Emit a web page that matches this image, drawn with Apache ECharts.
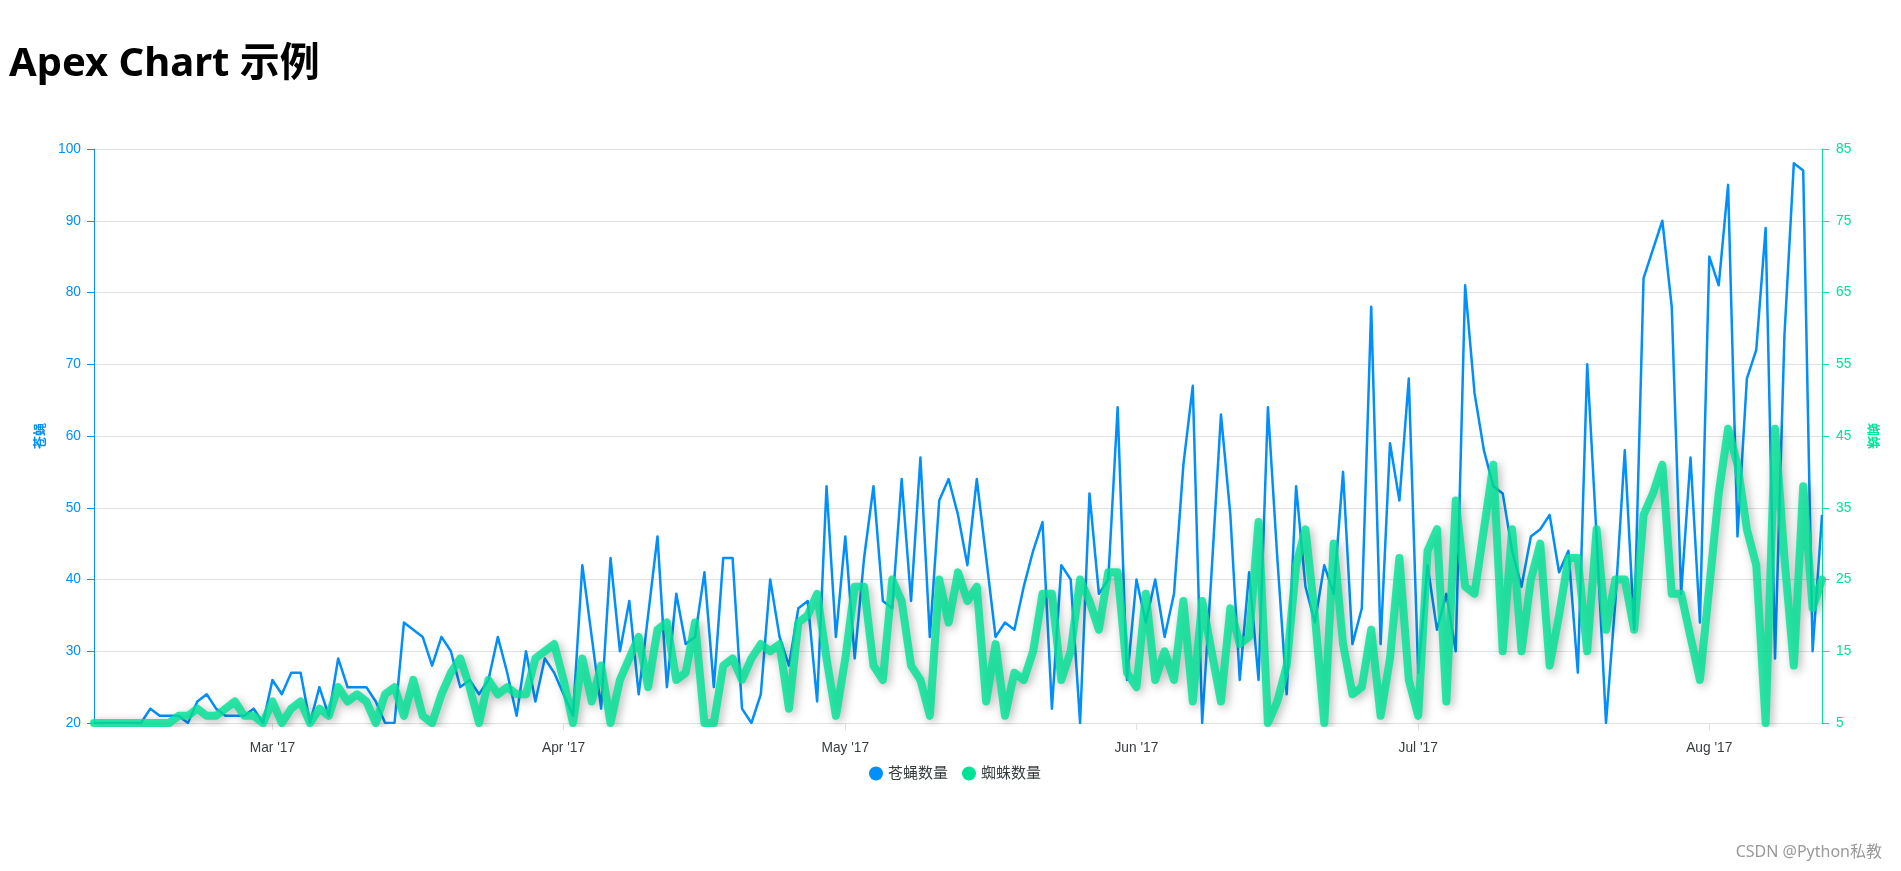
<!DOCTYPE html>
<html><head><meta charset="utf-8">
<script src="https://cdn.jsdelivr.net/npm/echarts@6/dist/echarts.min.js"></script>
<style>html,body{margin:0;padding:0;background:#fff;} #chart{width:1901px;height:871px;}</style>
</head><body><div id="chart"></div>
<script>
const titleText = 'Apex Chart 示例';
const seriesNames = ['苍蝇数量', '蜘蛛数量'];
const axisNames = ['苍蝇', '蜘蛛'];
const monthNames = ['Jan','Feb','Mar','Apr','May','Jun','Jul','Aug','Sep','Oct','Nov','Dec'];
const startDate = [2017, 1, 10]; // 2017-02-10, one point per day
const flies = [
  20,20,20,20,20,20,22,21,21,21,20,23,24,22,21,21,21,22,20,26,24,27,27,20,
  25,21,29,25,25,25,23,20,20,34,33,32,28,32,30,25,26,24,26,32,27,21,30,
  23,29,27,24,21,42,32,22,43,30,37,24,35,46,25,38,31,32,41,25,43,43,22,
  20,24,40,32,28,36,37,23,53,32,46,29,43,53,37,36,54,37,57,32,51,54,49,
  42,54,43,32,34,33,39,44,48,22,42,40,20,52,38,40,64,26,40,34,40,32,38,
  56,67,20,41,63,49,26,41,26,64,43,24,53,39,34,42,38,55,31,36,78,31,59,
  51,68,27,42,33,38,30,81,66,58,53,52,44,39,46,47,49,41,44,27,70,46,20,
  37,58,33,82,86,90,78,38,57,34,85,81,95,46,68,72,89,29,74,98,97,30,49
];
const spiders = [
  5,5,5,5,5,5,5,5,5,6,6,7,6,6,7,8,6,6,5,8,5,7,8,5,
  7,6,10,8,9,8,5,9,10,6,11,6,5,9,12,14,10,5,11,9,10,9,9,
  14,15,16,11,5,14,8,13,5,11,14,17,10,18,19,11,12,19,5,5,13,14,11,
  14,16,15,16,7,19,20,23,14,6,14,24,24,13,11,25,22,13,11,6,25,19,26,
  22,24,8,16,6,12,11,15,23,23,11,15,25,22,18,26,26,12,10,23,11,15,11,
  22,8,22,15,8,21,16,17,33,5,8,13,27,32,20,5,30,16,9,10,18,6,14,
  28,11,6,29,32,8,36,24,23,32,41,15,32,15,25,30,13,20,28,28,15,32,18,
  25,25,18,34,37,41,23,23,17,11,24,37,46,41,32,27,5,46,28,13,38,21,25
];
const leftTicks = [20, 100, 10];
const rightTicks = [5, 85, 10];

const dates = [];
const t0 = Date.UTC(startDate[0], startDate[1], startDate[2]);
for (let i = 0; i < flies.length; i++) {
  dates.push(new Date(t0 + i * 86400000).toISOString().slice(0, 10));
}
const isMonthStart = (idx, v) => v.slice(8) === '01';
const labelFont = "'Liberation Sans', Arial, Helvetica, sans-serif";
const cjkFont = "'Noto Sans', 'Noto Sans CJK SC', sans-serif";

const chart = echarts.init(document.getElementById('chart'), null, {renderer: 'canvas'});
chart.setOption({
  animation: false,
  backgroundColor: '#fff',
  title: {
    text: titleText, left: 4, top: 40,
    textStyle: {fontSize: 40, fontWeight: 'bold', color: '#000', fontFamily: cjkFont}
  },
  grid: {left: 94, right: 79, top: 149, bottom: 148, containLabel: false},
  legend: {
    data: [{name: seriesNames[0], itemStyle: {color: '#008FFB'}}, {name: seriesNames[1], itemStyle: {color: '#00E396'}}],
    left: 864, top: 761, icon: 'circle', itemWidth: 14, itemHeight: 14, itemGap: 14,
    textStyle: {color: '#373d3f', fontSize: 15, fontFamily: cjkFont}
  },
  xAxis: {
    type: 'category', data: dates, boundaryGap: false,
    axisLine: {lineStyle: {color: '#e0e0e0'}},
    axisTick: {show: true, interval: isMonthStart, length: 7, lineStyle: {color: '#e0e0e0'}},
    axisLabel: {
      interval: isMonthStart, margin: 18, color: '#373d3f', fontSize: 13.75, fontFamily: labelFont,
      formatter: v => monthNames[+v.slice(5, 7) - 1] + " '" + v.slice(2, 4)
    },
    splitLine: {show: false}
  },
  yAxis: [
    {
      type: 'value', position: 'left', min: leftTicks[0], max: leftTicks[1], interval: leftTicks[2],
      name: axisNames[0], nameLocation: 'middle', nameGap: 45,
      nameTextStyle: {color: '#008FFB', fontSize: 13, fontWeight: 'bold', fontFamily: cjkFont},
      axisLine: {show: true, lineStyle: {color: '#008FFB', width: 1}},
      axisTick: {show: true, length: 7, lineStyle: {color: '#008FFB'}},
      axisLabel: {color: '#008FFB', fontSize: 13.75, margin: 13, fontFamily: labelFont},
      splitLine: {show: true, lineStyle: {color: '#e0e0e0'}}
    },
    {
      type: 'value', position: 'right', min: rightTicks[0], max: rightTicks[1], interval: rightTicks[2],
      name: axisNames[1], nameLocation: 'middle', nameGap: 44, nameRotate: -90,
      nameTextStyle: {color: '#00E396', fontSize: 13, fontWeight: 'bold', fontFamily: cjkFont},
      axisLine: {show: true, lineStyle: {color: '#00E396', width: 1}},
      axisTick: {show: true, length: 7, lineStyle: {color: '#00E396'}},
      axisLabel: {color: '#00E396', fontSize: 13.75, margin: 14, fontFamily: labelFont},
      splitLine: {show: false}
    }
  ],
  series: [
    {
      name: seriesNames[0], type: 'line', yAxisIndex: 0, data: flies, symbol: 'none', z: 2,
      itemStyle: {color: '#008FFB'},
      lineStyle: {color: '#008FFB', width: 2.5, join: 'round'}
    },
    {
      name: seriesNames[1], type: 'line', yAxisIndex: 1, data: spiders, symbol: 'none', z: 3,
      itemStyle: {color: '#00E396'},
      lineStyle: {color: '#00E396', width: 8, opacity: 0.82, join: 'round', cap: 'round',
        shadowColor: 'rgba(0,0,0,0.35)', shadowBlur: 10, shadowOffsetX: 2.5, shadowOffsetY: 2.5}
    }
  ],
  graphic: [{
    type: 'text', right: 19, bottom: 11,
    style: {text: 'CSDN @Python私教', font: "16px 'Noto Sans', 'Noto Sans CJK SC', sans-serif", fill: '#999'}
  }]
});
</script></body></html>
